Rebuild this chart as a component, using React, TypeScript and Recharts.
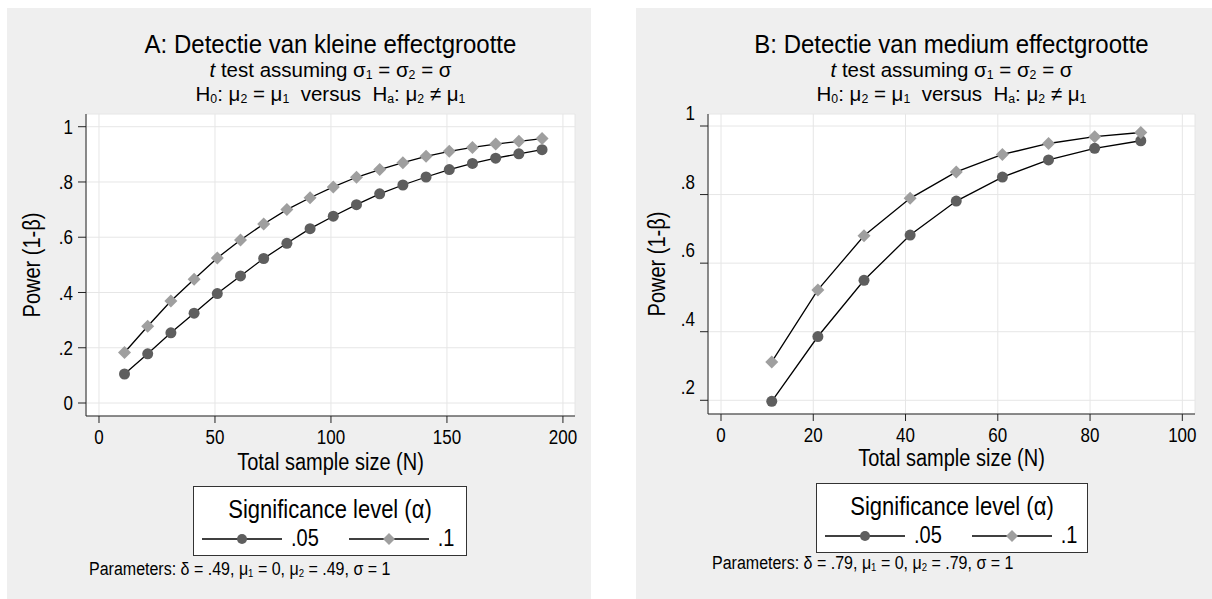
import React from "react"
import { LineChart, Line, XAxis, YAxis, CartesianGrid, Legend } from "recharts"

// panel A: kleine effectgrootte (delta = .49)
const sizesA = [11, 21, 31, 41, 51, 61, 71, 81, 91, 101, 111, 121, 131, 141, 151, 161, 171, 181, 191]
const powerA05 = [0.105, 0.178, 0.254, 0.325, 0.396, 0.46, 0.523, 0.578, 0.631, 0.676, 0.718, 0.757, 0.789, 0.818, 0.845, 0.867, 0.886, 0.902, 0.917]
const powerA10 = [0.183, 0.278, 0.369, 0.448, 0.525, 0.59, 0.648, 0.7, 0.743, 0.782, 0.817, 0.845, 0.87, 0.893, 0.911, 0.925, 0.937, 0.947, 0.957]
const xTicksA = [0, 50, 100, 150, 200]
const yTicksA = [0, 0.2, 0.4, 0.6, 0.8, 1]

// panel B: medium effectgrootte (delta = .79)
const sizesB = [11, 21, 31, 41, 51, 61, 71, 81, 91]
const powerB05 = [0.197, 0.386, 0.55, 0.682, 0.781, 0.851, 0.901, 0.935, 0.957]
const powerB10 = [0.312, 0.522, 0.68, 0.789, 0.866, 0.917, 0.949, 0.969, 0.981]
const xTicksB = [0, 20, 40, 60, 80, 100]
const yTicksB = [0.2, 0.4, 0.6, 0.8, 1]

const alphaLabels = [".05", ".1"]

const font = "'Liberation Sans', Arial, Helvetica, sans-serif"
const bg = "#efefef"
const circleFill = "#5e5e5e"
const diamondFill = "#9f9f9f"
// the stata export is a bit stretched vertically
const stretch = 1.15

function fmtTick(v: number) {
  if (v === 0) return "0"
  if (v === 1) return "1"
  return String(Math.round(v * 10) / 10).replace(/^0/, "")
}

function Sub({ children }: { children: React.ReactNode }) {
  return <span style={{ fontSize: "0.6em", position: "relative", top: "0.2em", lineHeight: 1 }}>{children}</span>
}

function CircleDot(props: any) {
  const { cx, cy, index } = props
  if (cx == null || cy == null) return <g key={"c" + index} />
  return <circle key={"c" + index} cx={cx} cy={cy} r={5.5} fill={circleFill} />
}

function DiamondDot(props: any) {
  const { cx, cy, index } = props
  if (cx == null || cy == null) return <g key={"d" + index} />
  const s = 6.5
  return <polygon key={"d" + index} points={`${cx},${cy - s} ${cx + s},${cy} ${cx},${cy + s} ${cx - s},${cy}`} fill={diamondFill} />
}

function YTick(props: any) {
  const { x, y, payload, shift } = props
  return (
    <g transform={`translate(${x},${y + (shift || 0)}) scale(1,${stretch})`}>
      <text x={0} y={0} dy="0.36em" textAnchor="end" fontSize={17} fill="#000" fontFamily={font}>
        {fmtTick(payload.value)}
      </text>
    </g>
  )
}

function XTick(props: any) {
  const { x, y, payload } = props
  return (
    <g transform={`translate(${x},${y}) scale(1,${stretch})`}>
      <text x={0} y={0} dy="0.72em" textAnchor="middle" fontSize={17} fill="#000" fontFamily={font}>
        {fmtTick(payload.value)}
      </text>
    </g>
  )
}

function SigLegend({ payload }: any) {
  return (
    <div style={{ width: "100%", height: "100%", boxSizing: "border-box", border: "1px solid #333", background: "#fff", fontFamily: font, color: "#000" }}>
      <div style={{ fontSize: 22, textAlign: "center", lineHeight: "22px", marginTop: 12, transform: `scaleY(${stretch})` }}>Significance level (α)</div>
      <div style={{ display: "flex", alignItems: "center", marginTop: 6, paddingLeft: 8 }}>
        {(payload || []).map((entry: any, i: number) => (
          <div key={entry.value} style={{ display: "flex", alignItems: "center", marginRight: 30 }}>
            <svg width={80} height={14}>
              <line x1={0} y1={7} x2={80} y2={7} stroke="#000" strokeWidth={1.3} />
              {i === 0 ? (
                <circle cx={40} cy={7} r={5} fill={circleFill} />
              ) : (
                <polygon points="40,1 46,7 40,13 34,7" fill={diamondFill} />
              )}
            </svg>
            <span style={{ fontSize: 20, marginLeft: 9, display: "inline-block", transform: `scaleY(${stretch})` }}>{entry.value}</span>
          </div>
        ))}
      </div>
    </div>
  )
}

interface PanelProps {
  left: number
  width: number
  title: string
  delta: string
  sizes: number[]
  p05: number[]
  p10: number[]
  xTicks: number[]
  yTicks: number[]
  xDomain: [number, number]
  yDomain: [number, number]
  plot: { left: number; right: number; top: number; bottom: number }
  yShift: number
  yTitleX: number
  xTitleY: number
  legendBox: { left: number; top: number; width: number; height: number }
  paramsX: number
  paramsY: number
}

function Panel(p: PanelProps) {
  const height = 591
  const yAxisW = 60
  const xAxisH = 30
  const rows = p.sizes.map((n, i) => ({ n, a05: p.p05[i], a10: p.p10[i] }))
  const cx = (p.plot.left + p.plot.right) / 2
  const cy = (p.plot.top + p.plot.bottom) / 2
  const center: React.CSSProperties = {
    position: "absolute",
    transform: `translate(-50%, -50%) scaleY(${stretch})`,
    whiteSpace: "nowrap",
    lineHeight: 1,
    color: "#000",
  }
  const plain: React.CSSProperties = { ...center, transform: "translate(-50%, -50%)" }

  return (
    <div style={{ position: "absolute", left: p.left, top: 8, width: p.width, height, background: bg, fontFamily: font }}>
      <div style={{ ...center, left: cx, top: 36, fontSize: 24, transform: "translate(-50%, -50%) scaleY(1.08)" }}>{p.title}</div>
      <div style={{ ...plain, left: cx, top: 62, fontSize: 20.5 }}>
        <i>t</i> test assuming σ<Sub>1</Sub> = σ<Sub>2</Sub> = σ
      </div>
      <div style={{ ...plain, left: cx, top: 86, fontSize: 20.5 }}>
        H<Sub>0</Sub>: μ<Sub>2</Sub> = μ<Sub>1</Sub>&nbsp; versus &nbsp;H<Sub>a</Sub>: μ<Sub>2</Sub> ≠ μ<Sub>1</Sub>
      </div>

      <LineChart
        width={p.width}
        height={height}
        data={rows}
        margin={{ top: p.plot.top, right: p.width - p.plot.right, left: p.plot.left - yAxisW, bottom: height - p.plot.bottom - xAxisH }}
      >
        <CartesianGrid fill="#ffffff" stroke="#e6e6e6" strokeWidth={1} />
        <XAxis
          dataKey="n"
          type="number"
          domain={p.xDomain}
          ticks={p.xTicks}
          allowDataOverflow
          height={xAxisH}
          tickSize={7}
          tickMargin={7}
          stroke="#222"
          tick={<XTick />}
          tickLine={{ stroke: "#222" }}
        />
        <YAxis
          type="number"
          domain={p.yDomain}
          ticks={p.yTicks}
          allowDataOverflow
          width={yAxisW}
          tickSize={8}
          tickMargin={5}
          stroke="#222"
          tick={<YTick shift={p.yShift} />}
          tickLine={{ stroke: "#222" }}
        />
        <Legend
          layout="horizontal"
          verticalAlign="middle"
          align="center"
          content={<SigLegend />}
          wrapperStyle={{ position: "absolute", left: p.legendBox.left, top: p.legendBox.top, width: p.legendBox.width, height: p.legendBox.height }}
        />
        <Line name={alphaLabels[0]} dataKey="a05" type="linear" stroke="#000" strokeWidth={1.3} dot={CircleDot} activeDot={false} isAnimationActive={false} />
        <Line name={alphaLabels[1]} dataKey="a10" type="linear" stroke="#000" strokeWidth={1.3} dot={DiamondDot} activeDot={false} isAnimationActive={false} />
      </LineChart>

      <div style={{ ...center, left: p.yTitleX, top: cy, fontSize: 20, transform: `translate(-50%, -50%) rotate(-90deg) scaleY(${stretch})` }}>Power (1-β)</div>
      <div style={{ ...center, left: cx, top: p.xTitleY, fontSize: 20 }}>Total sample size (N)</div>
      <div style={{ position: "absolute", left: p.paramsX, top: p.paramsY, transform: `translateY(-50%) scaleY(${stretch})`, whiteSpace: "nowrap", lineHeight: 1, fontSize: 16 }}>
        Parameters: δ = {p.delta}, μ<Sub>1</Sub> = 0, μ<Sub>2</Sub> = {p.delta}, σ = 1
      </div>
    </div>
  )
}

export default function App() {
  return (
    <div style={{ position: "absolute", left: 0, top: 0, width: 1212, height: 599, background: "#fff", overflow: "hidden" }}>
      <Panel
        left={7}
        width={584}
        title="A: Detectie van kleine effectgrootte"
        delta=".49"
        sizes={sizesA}
        p05={powerA05}
        p10={powerA10}
        xTicks={xTicksA}
        yTicks={yTicksA}
        xDomain={[-5.6, 205.2]}
        yDomain={[-0.047, 1.046]}
        plot={{ left: 79, right: 568, top: 106, bottom: 408 }}
        yShift={0}
        yTitleX={25}
        xTitleY={454}
        legendBox={{ left: 186, top: 478, width: 274, height: 70 }}
        paramsX={82}
        paramsY={561}
      />
      <Panel
        left={636}
        width={576}
        title="B: Detectie van medium effectgrootte"
        delta=".79"
        sizes={sizesB}
        p05={powerB05}
        p10={powerB10}
        xTicks={xTicksB}
        yTicks={yTicksB}
        xDomain={[-2.82, 102.75]}
        yDomain={[0.16, 1.035]}
        plot={{ left: 72, right: 559, top: 106, bottom: 406 }}
        yShift={-13}
        yTitleX={21}
        xTitleY={450}
        legendBox={{ left: 180, top: 475, width: 272, height: 70 }}
        paramsX={76}
        paramsY={555}
      />
    </div>
  )
}
